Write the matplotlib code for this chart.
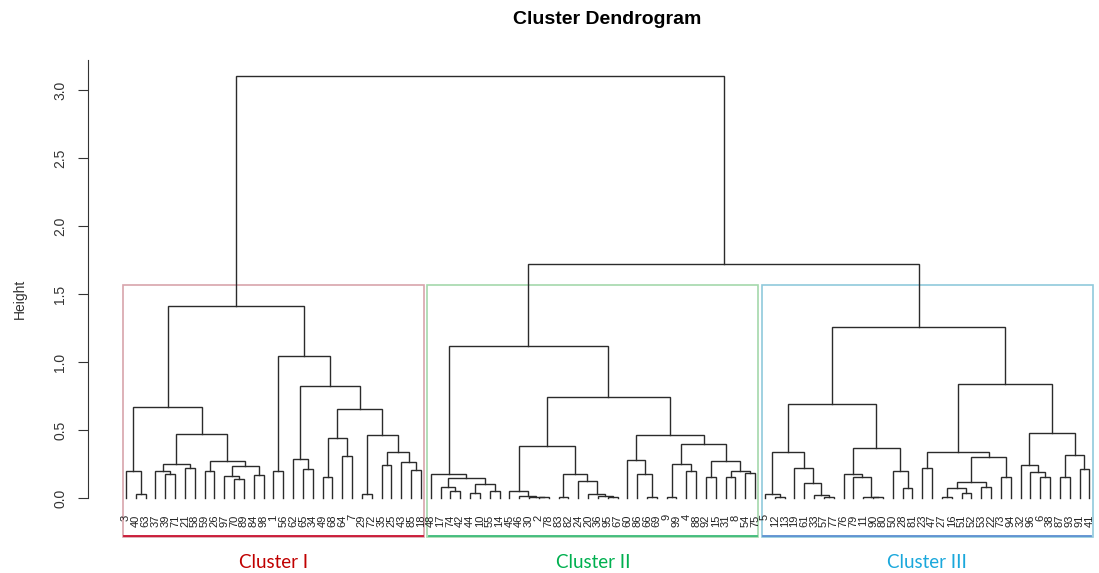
import matplotlib.pyplot as plt
from matplotlib.patches import Rectangle

# Merge trees for the three groups: (left, right, height), leaves are labels
cluster_1 = (
    (('3', ('40', '63', 0.03), 0.20),
     ((('37', ('39', '71', 0.18), 0.20), ('21', '58', 0.22), 0.25),
      (('59', '26', 0.20),
       (('97', ('70', '89', 0.14), 0.16), ('84', '98', 0.17), 0.235), 0.27),
      0.47),
     0.67),
    (('1', '56', 0.20),
     (('62', ('65', '34', 0.21), 0.29),
      ((('49', '68', 0.155), ('64', '7', 0.31), 0.44),
       (('29', '72', 0.03),
        (('35', '25', 0.24), ('43', ('85', '18', 0.205), 0.265), 0.34), 0.46),
       0.655),
      0.82),
     1.045),
    1.41)

cluster_2 = (
    ('48', (('17', ('74', '42', 0.05), 0.08),
            (('44', '10', 0.04), ('55', '14', 0.05), 0.10), 0.145), 0.18),
    ((('45', ('46', ('30', ('2', '78', 0.005), 0.01), 0.015), 0.05),
      (('83', '82', 0.01),
       ('24', ('20', ('36', ('95', '67', 0.005), 0.015), 0.03), 0.125), 0.18),
      0.385),
     (('60', ('86', ('66', '69', 0.01), 0.18), 0.28),
      ((('9', '99', 0.005), ('4', '88', 0.20), 0.25),
       (('92', '15', 0.155),
        (('31', '8', 0.155), ('54', '75', 0.185), 0.195), 0.27),
       0.40),
      0.465),
     0.74),
    1.12)

cluster_3 = (
    ((('5', ('12', '13', 0.005), 0.03),
      ('19', ('61', ('33', ('57', '77', 0.01), 0.02), 0.11), 0.22), 0.34),
     (('76', ('79', ('11', ('90', '80', 0.005), 0.01), 0.155), 0.175),
      ('50', ('28', '81', 0.075), 0.20), 0.37),
     0.69),
    ((('23', '47', 0.22),
      (((('27', '16', 0.01), ('51', '52', 0.035), 0.07), ('53', '22', 0.08), 0.12),
       ('73', '94', 0.155), 0.30),
      0.34),
     (('32', ('96', ('6', '38', 0.155), 0.19), 0.24),
      (('87', '93', 0.155), ('91', '41', 0.21), 0.315), 0.48),
     0.84),
    1.26)

height_23 = 1.72
height_root = 3.10

cluster_names = ['Cluster I', 'Cluster II', 'Cluster III']
text_colors = ['#c00000', '#00b050', '#1aa8dc']
box_colors = ['#d8a4ac', '#a4d8ac', '#90cadc']
line_colors = ['#c8102e', '#3cba78', '#5b8fd0']


def count_leaves(node):
    if isinstance(node, str):
        return 1
    return count_leaves(node[0]) + count_leaves(node[1])


def draw_node(ax, node, leaves):
    if isinstance(node, str):
        leaves.append(node)
        return len(leaves) - 1, 0.0
    left, right, h = node
    xl, hl = draw_node(ax, left, leaves)
    xr, hr = draw_node(ax, right, leaves)
    ax.plot([xl, xl, xr, xr], [hl, h, h, hr], color='#2b2b2b', lw=1.0,
            solid_joinstyle='miter')
    return (xl + xr) / 2, h


def main():
    plt.rcParams['font.family'] = ['Liberation Sans', 'DejaVu Sans']
    fig = plt.figure(figsize=(10.99, 5.73), dpi=100)
    W, H = 1099, 573
    ax = fig.add_axes([88 / W, (H - 537) / H, (W - 88) / W, (537 - 60) / H])

    tree = (cluster_1, (cluster_2, cluster_3, height_23), height_root)
    leaves = []
    draw_node(ax, tree, leaves)

    ymin, ymax = -0.2868, 3.2206
    ax.set_xlim(-3.866, 98.98)
    ax.set_ylim(ymin, ymax)

    # leaf labels hang below the baseline
    for i, lab in enumerate(leaves):
        ax.text(i, -0.12, lab, rotation=90, ha='center', va='top',
                fontsize=8, color='#222222')

    # boxes around the three groups (box top halfway between the k=3 cut heights)
    box_top = (cluster_1[2] + height_23) / 2
    start = 0
    for k, cl in enumerate([cluster_1, cluster_2, cluster_3]):
        n = count_leaves(cl)
        x0 = start - 0.34
        x1 = start + n - 1 + 0.33
        ax.add_patch(Rectangle((x0, ymin), x1 - x0, box_top - ymin, fill=False,
                               edgecolor=box_colors[k], lw=1.2, clip_on=False))
        ax.plot([x0 + 0.15, x1 - 0.15], [ymin + 0.01, ymin + 0.01],
                color=line_colors[k], lw=1.3, clip_on=False)
        xc = (x0 + x1) / 2
        ax.annotate(cluster_names[k], xy=(xc, 0), xycoords=('data', 'figure fraction'),
                    xytext=(0, 7.5), textcoords='offset points', ha='center',
                    va='center', fontsize=13.5, color=text_colors[k], family='Lato')
        start += n

    for s in ['top', 'right', 'bottom']:
        ax.spines[s].set_visible(False)
    ax.spines['left'].set_bounds(0, 3.22)
    ax.spines['left'].set_color('#333333')
    ax.set_xticks([])
    ticks = [0.0, 0.5, 1.0, 1.5, 2.0, 2.5, 3.0]
    ax.set_yticks(ticks)
    ax.set_yticklabels(['%.1f' % t for t in ticks], rotation=90, va='center',
                       fontsize=10, color='#333333')
    ax.tick_params(axis='y', length=7, pad=8, color='#333333')
    ax.set_ylabel('Height', fontsize=10, color='#333333', labelpad=19)

    fig.text(607 / W, 1 - 20 / H, 'Cluster Dendrogram', ha='center', va='center',
             fontsize=14, fontweight='bold')

    plt.savefig('out.png', dpi=100)


if __name__ == '__main__':
    main()
